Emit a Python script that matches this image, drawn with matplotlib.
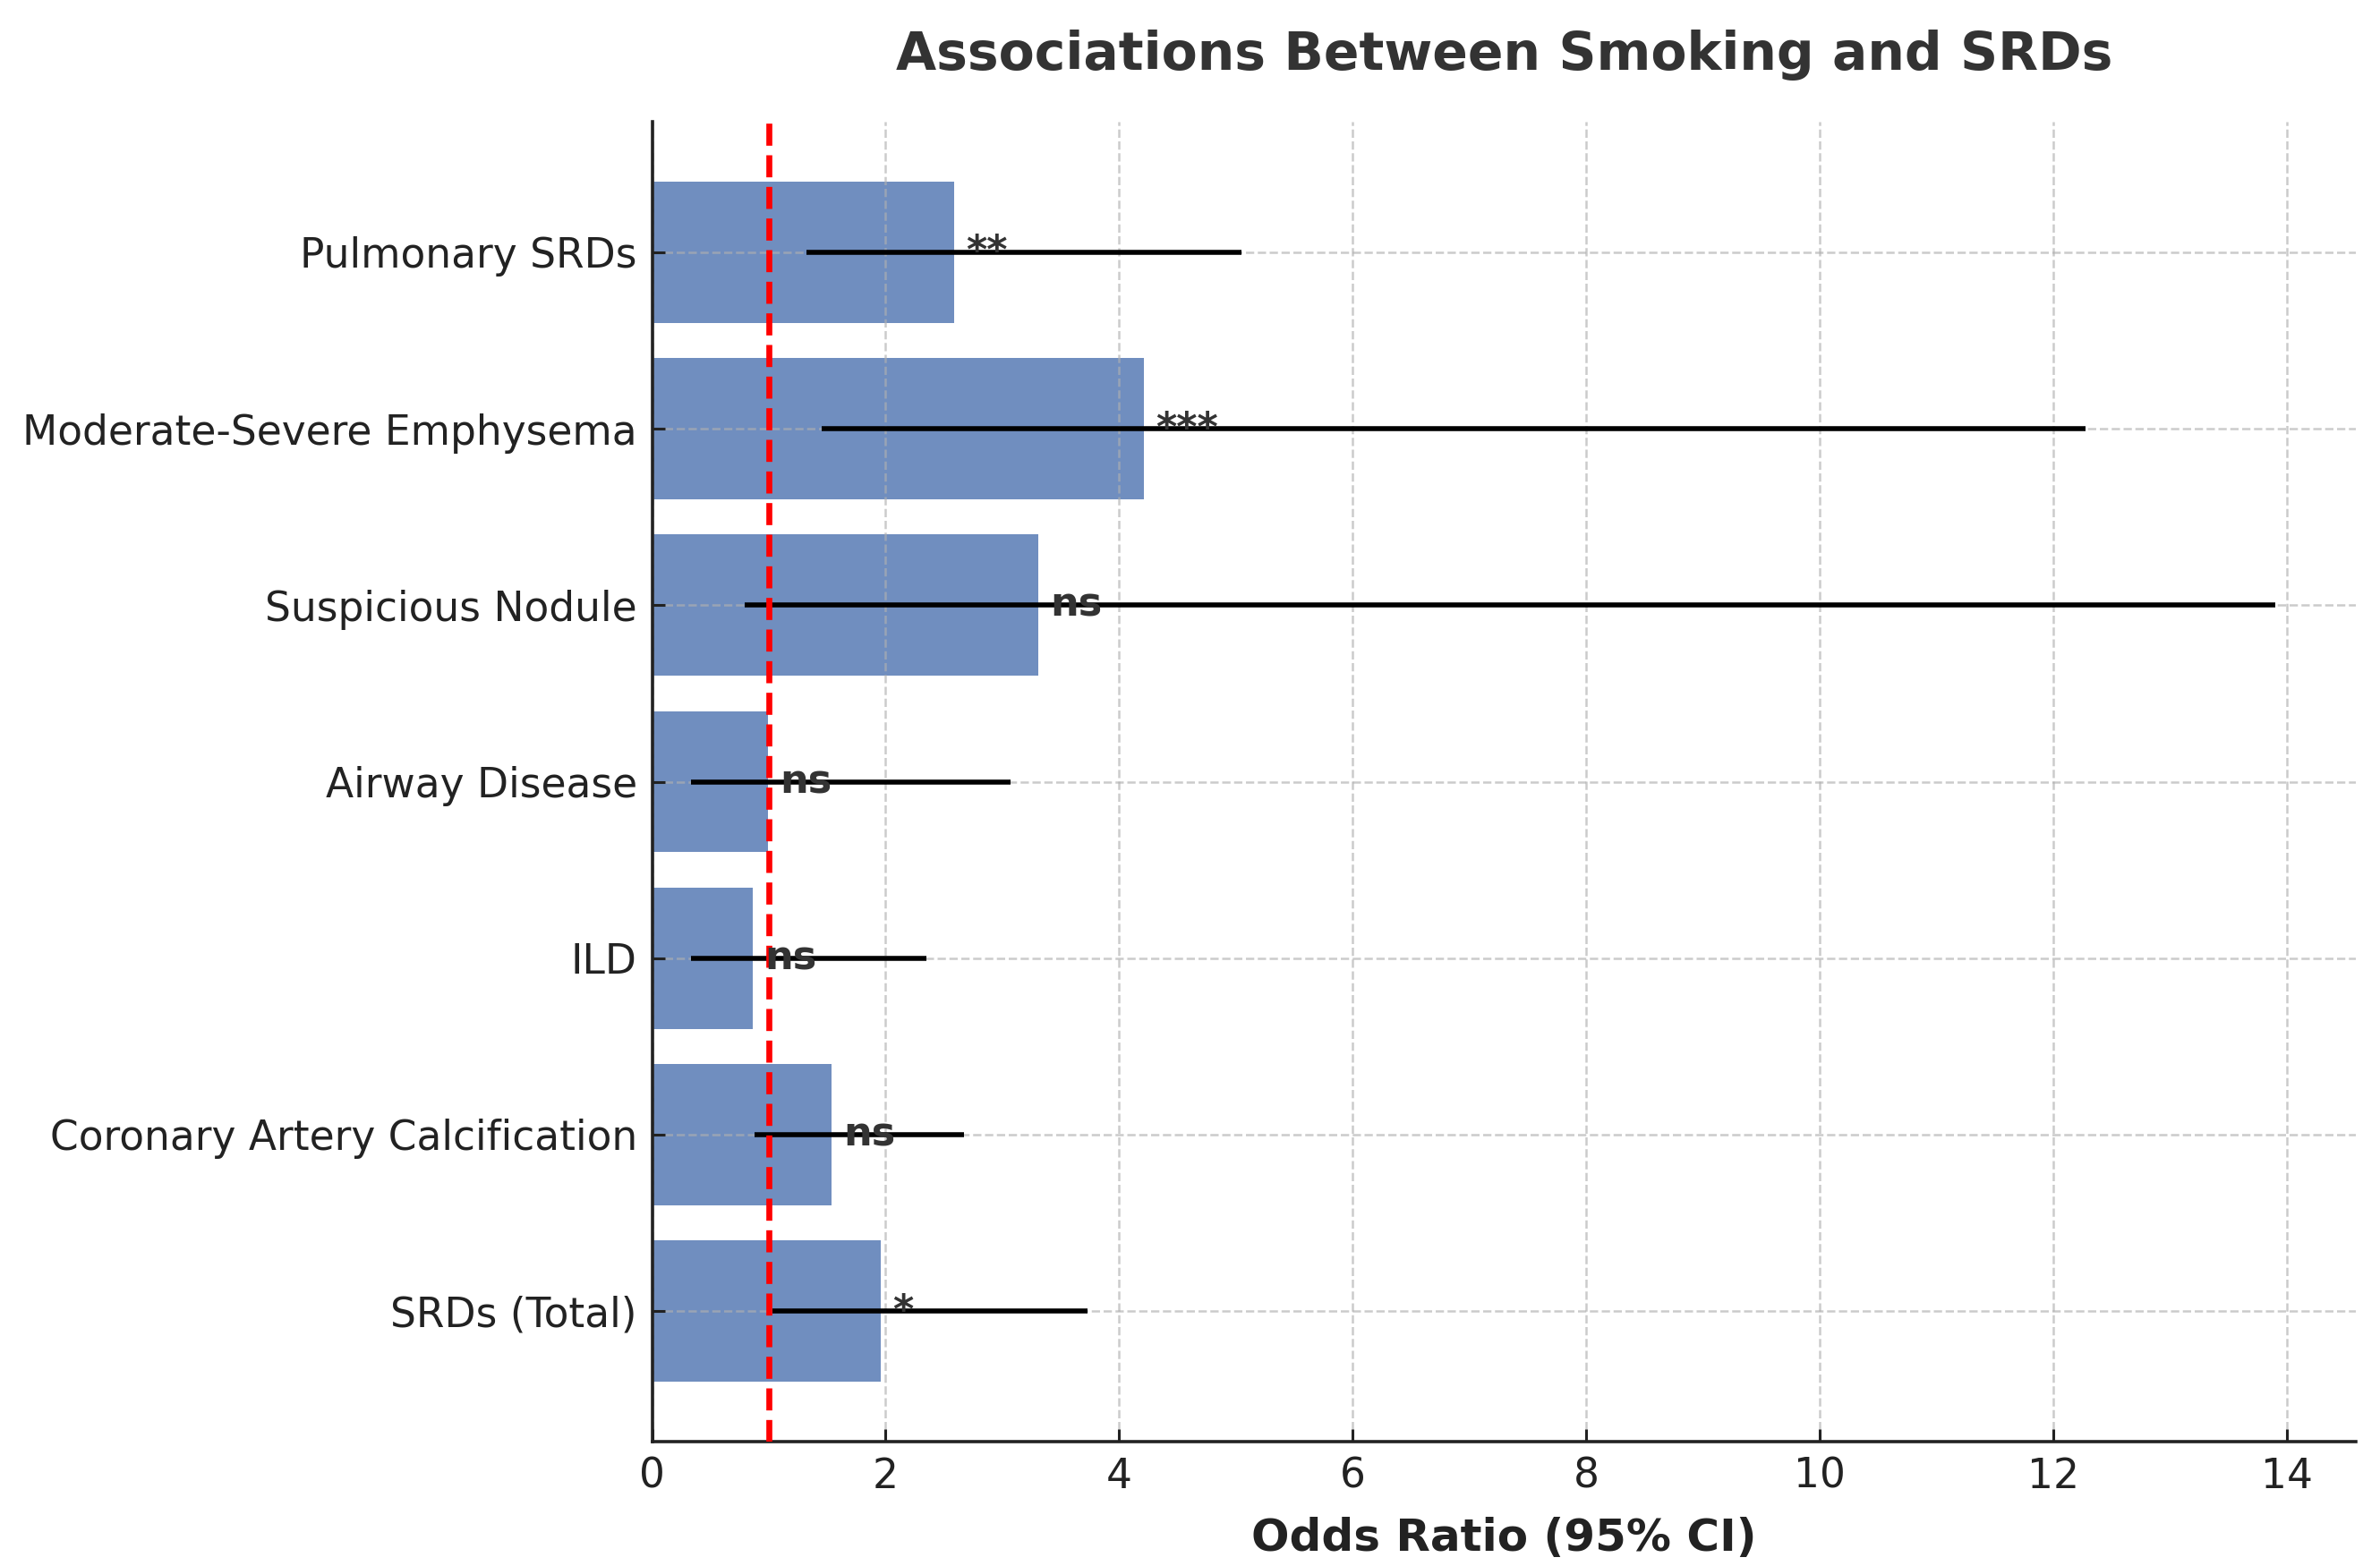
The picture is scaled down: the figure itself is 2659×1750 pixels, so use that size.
import numpy as np
import matplotlib.pyplot as plt

# outcomes, bottom to top as drawn
outcomes = ['SRDs (Total)', 'Coronary Artery Calcification', 'ILD', 'Airway Disease',
            'Suspicious Nodule', 'Moderate-Severe Emphysema', 'Pulmonary SRDs']
odds_ratio = [1.96, 1.54, 0.86, 0.99, 3.31, 4.21, 2.59]
ci_low = [1.03, 0.88, 0.33, 0.33, 0.79, 1.45, 1.32]
ci_high = [3.73, 2.67, 2.35, 3.07, 13.90, 12.28, 5.05]
signif = ['*', 'ns', 'ns', 'ns', 'ns', '***', '**']

odds_ratio = np.array(odds_ratio)
err = [odds_ratio - np.array(ci_low), np.array(ci_high) - odds_ratio]
y = np.arange(len(outcomes))

fig = plt.figure(figsize=(13.295, 8.75), dpi=200)
ax = fig.add_axes([0.274, 0.0794, 0.716, 0.8429])

ax.barh(y, odds_ratio, height=0.8, color='#4C72B0', alpha=0.8, zorder=1)
ax.errorbar(odds_ratio, y, xerr=err, fmt='none', ecolor='black', elinewidth=2, capsize=0, zorder=3)
ax.axvline(1, color='red', linestyle='--', linewidth=2.4, zorder=4)

# significance marks next to each bar
for yi, x, s in zip(y, odds_ratio, signif):
    ax.text(x + 0.1, yi, s, ha='left', va='center', fontsize=16,
            fontweight='bold', color='#333333', zorder=5)

ax.set_yticks(y)
ax.set_yticklabels(outcomes)
ax.grid(True, linestyle='--', linewidth=0.9, color='#b0b0b0', alpha=0.65)

ax.spines['top'].set_visible(False)
ax.spines['right'].set_visible(False)
for sp in ['left', 'bottom']:
    ax.spines[sp].set_linewidth(1.3)
    ax.spines[sp].set_color('#222222')

ax.tick_params(axis='both', direction='in', length=5, width=1.1, pad=6,
               labelsize=16.4, colors='#222222')

ax.set_xlabel('Odds Ratio (95% CI)', fontsize=18, fontweight='bold', color='#222222', labelpad=8)
ax.set_title('Associations Between Smoking and SRDs', fontsize=21, fontweight='bold',
             color='#333333', pad=21)

fig.savefig('out.png', dpi=200)
